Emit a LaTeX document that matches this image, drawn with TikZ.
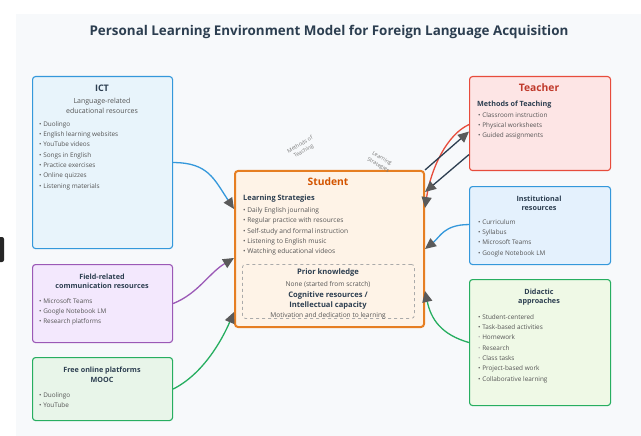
\documentclass[tikz,border=0pt]{standalone}
\usepackage{fontspec}
\setmainfont{Open Sans}
\usetikzlibrary{arrows.meta,calc}
\definecolor{bgc}{HTML}{F7F9FB}
\definecolor{titlec}{HTML}{2C3E50}
\definecolor{textc}{HTML}{555555}
\definecolor{arrowc}{HTML}{5A5A5A}
\definecolor{bluec}{HTML}{3498DB}
\definecolor{ictfill}{HTML}{E8F4FB}
\definecolor{instfill}{HTML}{E4F1FD}
\definecolor{purplec}{HTML}{9B59B6}
\definecolor{purplefill}{HTML}{F3E8FD}
\definecolor{greenc}{HTML}{27AE60}
\definecolor{freefill}{HTML}{E8F5E9}
\definecolor{didfill}{HTML}{EFF9E6}
\definecolor{orangec}{HTML}{E67E22}
\definecolor{studfill}{HTML}{FEF3E7}
\definecolor{studtitle}{HTML}{D35400}
\definecolor{redc}{HTML}{E74C3C}
\definecolor{teachfill}{HTML}{FDE5E5}
\definecolor{teachtitle}{HTML}{C0392B}
\definecolor{darkc}{HTML}{2C3E50}
\definecolor{dashc}{HTML}{AAAAAA}
\definecolor{lblc}{HTML}{777777}
\tikzset{
  box/.style={draw, rounded corners=3pt, line width=1.1pt, anchor=north west, inner sep=0pt},
  ttl/.style={font=\bfseries\fontsize{7.2}{9.5}\selectfont, text=titlec, align=center, inner sep=0pt},
  sub/.style={font=\fontsize{7}{10}\selectfont, text=textc, align=center, inner sep=0pt},
  lst/.style={font=\fontsize{6.4}{10.3}\selectfont, text=textc, align=left, anchor=north west, inner sep=0pt},
  big/.style={font=\bfseries\fontsize{10.3}{13}\selectfont, inner sep=0pt},
  lbl/.style={font=\fontsize{5.3}{7.4}\selectfont, text=lblc, align=center, inner sep=0pt},
  conn/.style={line width=1.3pt, -{Triangle[length=11pt,width=10pt,color=arrowc,fill=arrowc]}},
}
\newcommand{\fb}{\textcolor{textc!45}{•}}
\begin{document}
\begin{tikzpicture}[x=1pt,y=-1pt]
\useasboundingbox (0,0) rectangle (641,436);
\fill[white] (0,0) rectangle (641,436);
\fill[bgc] (16,14) rectangle (641,436);
\fill[black!85, rounded corners=2pt] (-4,237) rectangle (4,262);

\node[font=\bfseries\fontsize{13.4}{15}\selectfont, text=titlec, inner sep=0pt] (title) at (329,32) {Personal Learning Environment Model for Foreign Language Acquisition};

% left boxes
\node[box, draw=bluec, fill=ictfill, minimum width=140pt, minimum height=172pt] (ict) at (32,76) {};
\node[ttl, font=\bfseries\fontsize{9}{11}\selectfont] (ictt) at (102,88) {ICT};
\node[sub] (icts) at (102,106) {Language-related\\educational resources};
\node[lst] (ictl) at (39,121.2) {• Duolingo\\• English learning websites\\• YouTube videos\\• Songs in English\\• Practice exercises\\• Online quizzes\\• Listening materials};

\node[box, draw=purplec, fill=purplefill, minimum width=140pt, minimum height=78pt] (field) at (32,264) {};
\node[ttl] (fieldt) at (102,281.5) {Field-related\\communication resources};
\node[lst] (fieldl) at (39,298.2) {• Microsoft Teams\\• Google Notebook LM\\• Research platforms};

\node[box, draw=greenc, fill=freefill, minimum width=140pt, minimum height=63pt] (free) at (32,357) {};
\node[ttl] (freet) at (102,375) {Free online platforms\\MOOC};
\node[lst] (freel) at (39,392.2) {• Duolingo\\• YouTube};

% student
\node[box, draw=orangec, fill=studfill, line width=2pt, minimum width=189pt, minimum height=156pt] (student) at (234,170) {};
\node[big, text=studtitle] (studt) at (328,182) {Student};
\node[ttl, anchor=west, font=\bfseries\fontsize{7.4}{9.5}\selectfont] (studls) at (243,199) {Learning Strategies};
\node[lst, font=\fontsize{6.6}{10.3}\selectfont] (studl) at (243,207.2) {• Daily English journaling\\• Regular practice with resources\\• Self-study and formal instruction\\• Listening to English music\\• Watching educational videos};
\node[box, draw=dashc, dashed, line width=0.8pt, fill=studfill, minimum width=172pt, minimum height=54pt] (inner) at (242,264) {};
\node[ttl, font=\bfseries\fontsize{7.6}{10}\selectfont] (prior) at (328,273) {Prior knowledge};
\node[sub, font=\fontsize{6.6}{8}\selectfont] (none) at (328,284) {None (started from scratch)};
\node[ttl, font=\bfseries\fontsize{7.6}{10}\selectfont] (cog) at (328,301) {Cognitive resources /\\Intellectual capacity};
\node[sub, font=\fontsize{6.6}{8}\selectfont] (motiv) at (328,316) {Motivation and dedication to learning};

% right boxes
\node[box, draw=redc, fill=teachfill, minimum width=141pt, minimum height=94pt] (teacher) at (469,76) {};
\node[big, text=teachtitle] (teacht) at (539,88) {Teacher};
\node[ttl, anchor=west] (teachm) at (477,105) {Methods of Teaching};
\node[lst] (teachl) at (478,112.2) {• Classroom instruction\\• Physical worksheets\\• Guided assignments};

\node[box, draw=bluec, fill=instfill, minimum width=141pt, minimum height=78pt] (inst) at (469,186) {};
\node[ttl] (instt) at (539,203.5) {Institutional\\resources};
\node[lst] (instl) at (478,219.2) {• Curriculum\\• Syllabus\\• Microsoft Teams\\• Google Notebook LM};

\node[box, draw=greenc, fill=didfill, minimum width=141pt, minimum height=126pt] (did) at (469,279) {};
\node[ttl] (didt) at (539,297) {Didactic\\approaches};
\node[lst] (didl) at (478,314.2) {• Student-centered\\• Task-based activities\\\fb\ Homework\\\fb\ Research\\\fb\ Class tasks\\• Project-based work\\• Collaborative learning};

% labels
\node[lbl, rotate=30] (lmt) at (302,148) {Methods of\\Teaching};
\node[lbl, rotate=-30] (lls) at (380,162) {Learning\\Strategies};

% connectors
\draw[conn, bluec] (ict.east) .. controls +(35,0) and +(-20,-30) .. ([yshift=40pt]student.west);
\draw[conn, purplec] (field.east) .. controls +(25,-10) and +(-25,15) .. ([yshift=-9pt]student.west);
\draw[conn, greenc] (free.east) .. controls +(30,-15) and +(-12,28) .. ([yshift=-63pt]student.west);
\draw[conn, redc] ([yshift=-1pt]teacher.west) .. controls +(-22,10) and +(6,-40) .. ([yshift=-38pt]student.north east);
\draw[conn, darkc] (student.north east) -- ([yshift=-8pt]teacher.west);
\draw[conn, darkc] ([yshift=-31pt]teacher.west) -- ([yshift=-22pt]student.north east);
\draw[conn, bluec] ([yshift=1pt]inst.west) .. controls +(-25,0) and +(15,-12) .. (student.east);
\draw[conn, greenc] (did.west) .. controls +(-28,-8) and +(6,28) .. ([yshift=-42pt]student.east);
\end{tikzpicture}
\end{document}
